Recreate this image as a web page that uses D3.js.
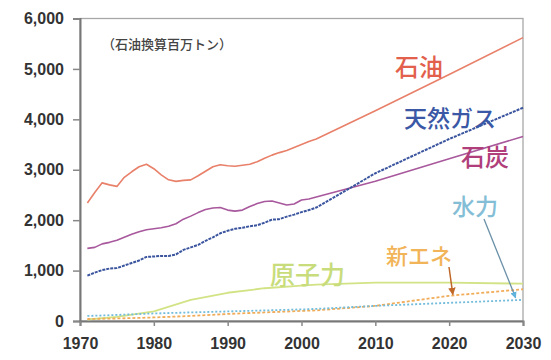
<!DOCTYPE html>
<html><head><meta charset="utf-8">
<script src="https://cdn.jsdelivr.net/npm/d3@7"></script>
<style>
html,body{margin:0;padding:0;background:#fff;}
svg{display:block;}
</style></head>
<body>
<svg id="chart" width="551" height="360"></svg>
<script>
// ---- data (Mtoe, 石油換算百万トン) ----
const oilYears = [1971,1972,1973,1974,1975,1976,1977,1978,1979,1980,1981,1982,1983,1984,1985,1986,1987,1988,1989,1990,1991,1992,1993,1994,1995,1996,1997,1998,1999,2000,2001,2002,2010,2020,2030];
const oil      = [2340,2550,2740,2700,2670,2850,2960,3060,3110,3020,2900,2800,2770,2790,2800,2880,2970,3060,3100,3080,3070,3090,3110,3160,3230,3290,3340,3380,3440,3500,3560,3610,4170,4890,5620];
const coal     = [1440,1460,1530,1560,1600,1660,1720,1770,1810,1830,1850,1880,1930,2020,2080,2150,2210,2240,2250,2200,2180,2200,2270,2330,2370,2380,2340,2300,2320,2400,2420,2460,2770,3220,3660];
const gas      = [900,960,1010,1040,1050,1100,1150,1200,1270,1280,1290,1290,1320,1410,1460,1510,1590,1660,1740,1790,1830,1850,1880,1900,1950,2010,2020,2070,2110,2160,2200,2250,2930,3610,4230];
const smallYears = [1971,1975,1980,1985,1990,1995,2000,2002,2010,2020,2030];
const nuclear  = [30,80,190,420,560,650,700,720,760,760,740];
const hydro    = [100,120,150,170,190,210,230,240,300,360,420];
const newEnergy= [40,50,70,100,140,170,200,210,300,500,630];
const yTicks = [0,1000,2000,3000,4000,5000,6000];
const xTicks = [1970,1980,1990,2000,2010,2020,2030];
const unitLabel = "（石油換算百万トン）";

const svg = d3.select("#chart");
const pL = 80, pR = 523, pT = 18.5, pB = 321;
const x = d3.scaleLinear().domain([1970,2030]).range([pL,pR]);
const y = d3.scaleLinear().domain([0,6000]).range([pB,pT]);

// frame
svg.append("rect").attr("x",pL).attr("y",pT).attr("width",pR-pL).attr("height",pB-pT)
  .attr("fill","none").attr("stroke","#a8a8a8").attr("stroke-width",1.3);

// axes
const fmt = d3.format(",");
const yAxis = svg.append("g").attr("transform",`translate(${pL},0)`)
  .call(d3.axisLeft(y).tickValues(yTicks).tickFormat(fmt).tickSize(7).tickPadding(9));
const xAxis = svg.append("g").attr("transform",`translate(0,${pB})`)
  .call(d3.axisBottom(x).tickValues(xTicks).tickFormat(d3.format("d")).tickSize(5).tickPadding(12));
[yAxis,xAxis].forEach(g=>{
  g.select(".domain").attr("stroke","#777").attr("stroke-width",2);
  g.selectAll(".tick line").attr("stroke","#888").attr("stroke-width",1.5);
  g.selectAll("text").attr("fill","#333").attr("font-family","'Liberation Sans',Arial,sans-serif")
    .attr("font-weight","bold").attr("font-size","16px");
});

// lines
const line = (yrs) => d3.line().x((d,i)=>x(yrs[i])).y(d=>y(d)).curve(d3.curveLinear);
function draw(data, yrs, color, w, dash){
  svg.append("path").datum(data).attr("d",line(yrs)).attr("fill","none")
    .attr("stroke",color).attr("stroke-width",w).attr("stroke-linejoin","round")
    .attr("stroke-dasharray",dash||null);
}
draw(nuclear, smallYears, "#d2e386", 1.8);
draw(newEnergy, smallYears, "#f0ac58", 1.8, "3,2");
draw(hydro, smallYears, "#72bcdc", 1.8, "2,2");
draw(coal, oilYears, "#a8589c", 1.6);
draw(gas, oilYears, "#3a549e", 2, "3,1");
draw(oil, oilYears, "#e8806a", 1.6);

// labels
const jp = "'Noto Sans CJK JP','Noto Sans CJK SC',sans-serif";
function label(t, xx, yy, color, size){
  svg.append("text").attr("x",xx).attr("y",yy).text(t).attr("fill",color)
    .attr("font-family",jp).attr("font-size",size+"px").attr("font-weight","500");
}
label(unitLabel, 102, 49, "#444", 13);
label("石油", 395, 76, "#e2604c", 24);
label("天然ガス", 404, 127, "#3a58a6", 23);
label("石炭", 461, 166, "#b03e7a", 24);
label("水力", 452, 215, "#84bed6", 23);
label("新エネ", 386, 264, "#f2b458", 22);
label("原子力", 270, 284, "#c8dc7c", 25);

// leader arrows
const defs = svg.append("defs");
function marker(id,color){
  defs.append("marker").attr("id",id).attr("viewBox","0 0 10 10").attr("refX",9).attr("refY",5)
    .attr("markerWidth",5).attr("markerHeight",5).attr("orient","auto")
    .append("path").attr("d","M0,0L10,5L0,10z").attr("fill",color);
}
marker("mh","#5fb3dc"); marker("mn","#c0682a");
svg.append("line").attr("x1",484).attr("y1",219).attr("x2",x(2029)).attr("y2",y(hydro[hydro.length-1])-2)
  .attr("stroke","#6a90a8").attr("stroke-width",1.3).attr("marker-end","url(#mh)");
svg.append("line").attr("x1",449).attr("y1",267).attr("x2",x(2020.5)).attr("y2",y(505)-1)
  .attr("stroke","#c0682a").attr("stroke-width",1.5).attr("marker-end","url(#mn)");
</script>
</body></html>
